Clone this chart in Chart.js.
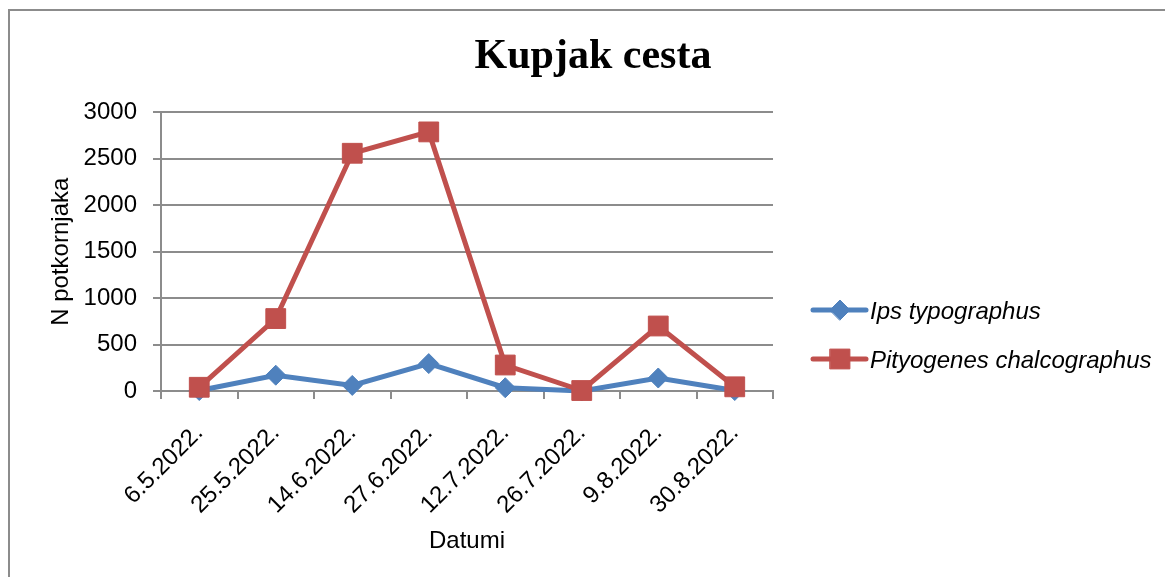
<!DOCTYPE html>
<html lang="hr">
<head>
  <meta charset="UTF-8">
  <title>Kupjak cesta</title>
  <style>
    body {
      margin: 0;
      background: #fff;
      overflow: hidden;
    }
    .frame {
      position: absolute;
      left: 8px;
      top: 9px;
      width: 1170px;
      height: 580px;
      border: 2px solid #8c8c8c;
    }
    #chart {
      position: absolute;
      left: 10px;
      top: 11px;
    }
  </style>
</head>
<body>
  <div class="frame"></div>
  <canvas id="chart" width="1166" height="566"></canvas>

  <script src="https://cdn.jsdelivr.net/npm/chart.js"></script>
  <script>
    // dates of trap checks
    const dates = ['6.5.2022.', '25.5.2022.', '14.6.2022.', '27.6.2022.', '12.7.2022.', '26.7.2022.', '9.8.2022.', '30.8.2022.'];
    const seriesNames = ['Ips typographus', 'Pityogenes chalcographus'];
    const ipsValues = [5, 170, 60, 295, 35, 0, 140, 5];
    const pityValues = [40, 780, 2560, 2790, 280, 5, 700, 45];
    const yTicks = [0, 500, 1000, 1500, 2000, 2500, 3000];

    const blue = '#4F81BD';
    const red = '#C0504D';
    const gridColor = '#8c8c8c';
    const sans = '"Liberation Sans", Arial, sans-serif';

    // legend drawn by hand so it can sit right of the plot, Excel style
    const sideLegend = {
      id: 'sideLegend',
      afterDraw(chart) {
        const ctx = chart.ctx;
        const rows = [299, 348];
        chart.data.datasets.forEach((ds, i) => {
          const y = rows[i];
          ctx.save();
          ctx.strokeStyle = ds.borderColor;
          ctx.lineWidth = 5;
          ctx.lineCap = 'round';
          ctx.beginPath();
          ctx.moveTo(803, y);
          ctx.lineTo(856, y);
          ctx.stroke();
          ctx.fillStyle = ds.backgroundColor;
          ctx.strokeStyle = ds.borderColor;
          ctx.lineWidth = 1;
          Chart.helpers.drawPoint(ctx, {
            pointStyle: ds.pointStyle,
            radius: ds.pointRadius,
            borderWidth: 1
          }, 830, y);
          ctx.fillStyle = '#000';
          ctx.font = 'italic 24px ' + sans;
          ctx.textBaseline = 'middle';
          ctx.fillText(ds.label, 860, y + 2);
          ctx.restore();
        });
      }
    };

    new Chart(document.getElementById('chart').getContext('2d'), {
      type: 'line',
      data: {
        labels: dates,
        datasets: [{
          label: seriesNames[0],
          data: ipsValues,
          borderColor: blue,
          backgroundColor: blue,
          borderWidth: 5,
          pointStyle: 'rectRot',
          pointRadius: 10,
          pointBorderWidth: 1,
          tension: 0,
          clip: false,
          order: 1
        }, {
          label: seriesNames[1],
          data: pityValues,
          borderColor: red,
          backgroundColor: red,
          borderWidth: 5,
          pointStyle: 'rect',
          pointRadius: 14,
          pointBorderWidth: 1,
          tension: 0,
          clip: false,
          order: 0
        }]
      },
      options: {
        responsive: false,
        animation: false,
        events: [],
        layout: { padding: 0 },
        plugins: {
          legend: { display: false },
          tooltip: { enabled: false },
          title: {
            display: true,
            text: 'Kupjak cesta',
            color: '#000',
            font: { family: '"Liberation Serif", "Times New Roman", serif', size: 42, weight: 'bold' },
            padding: { top: 21, bottom: 30 }
          }
        },
        scales: {
          x: {
            type: 'category',
            offset: true,
            grid: {
              offset: true,
              drawOnChartArea: false,
              drawTicks: true,
              tickLength: 8,
              color: gridColor,
              lineWidth: 2
            },
            border: { color: gridColor, width: 2 },
            ticks: {
              autoSkip: false,
              minRotation: 45,
              maxRotation: 45,
              padding: 20,
              color: '#000',
              font: { family: sans, size: 24 }
            },
            title: {
              display: true,
              text: 'Datumi',
              color: '#000',
              font: { family: sans, size: 24 },
              padding: { top: 0, bottom: 21 }
            },
            afterFit(scale) { scale.height = 186; }
          },
          y: {
            min: yTicks[0],
            max: yTicks[yTicks.length - 1],
            grid: { color: gridColor, lineWidth: 2, tickLength: 8 },
            border: { color: gridColor, width: 2 },
            ticks: {
              stepSize: yTicks[1] - yTicks[0],
              padding: 16,
              color: '#000',
              font: { family: sans, size: 24 },
              callback: (v) => String(v)
            },
            title: {
              display: true,
              text: 'N potkornjaka',
              color: '#000',
              font: { family: sans, size: 24 },
              padding: { top: 37, bottom: 0 }
            },
            afterFit(scale) { scale.width = 151; }
          },
          // empty axis that keeps room for the legend on the right
          space: {
            position: 'right',
            min: 0,
            max: 1,
            grid: { display: false },
            border: { display: false },
            ticks: { display: false },
            afterFit(scale) { scale.width = 403; }
          }
        }
      },
      plugins: [sideLegend]
    });
  </script>
</body>
</html>
